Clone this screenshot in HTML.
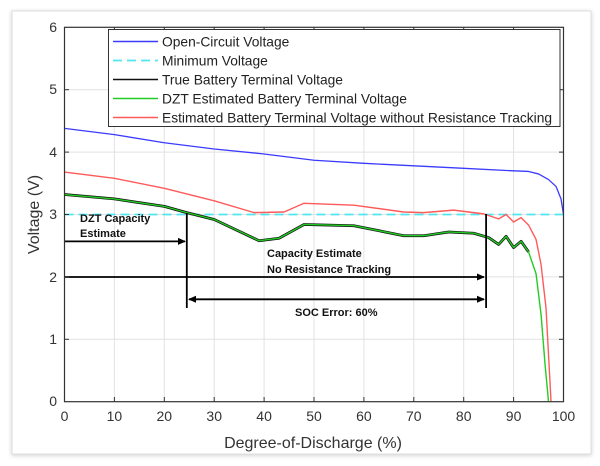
<!DOCTYPE html>
<html><head><meta charset="utf-8"><style>
html,body{margin:0;padding:0;background:#fff;}
svg{display:block;font-family:"Liberation Sans",Arial,sans-serif;}
</style></head><body>
<svg width="600" height="466" viewBox="0 0 600 466" xmlns="http://www.w3.org/2000/svg">
<defs>
<filter id="sh" x="-5%" y="-5%" width="110%" height="110%"><feDropShadow dx="0" dy="1" stdDeviation="2" flood-color="#000" flood-opacity="0.18"/></filter>
<marker id="ar" markerWidth="8" markerHeight="8" refX="7" refY="4" orient="auto" markerUnits="userSpaceOnUse"><path d="M0,0.5 L8,4 L0,7.5 z" fill="#000"/></marker>
<marker id="al" markerWidth="8" markerHeight="8" refX="1" refY="4" orient="auto" markerUnits="userSpaceOnUse"><path d="M8,0.5 L0,4 L8,7.5 z" fill="#000"/></marker>
</defs>
<rect x="12" y="11" width="579" height="443" fill="#fff" stroke="#ddd" stroke-width="1" filter="url(#sh)"/>
<rect x="64.5" y="27.3" width="499" height="374.4" fill="#fff"/>
<g stroke="#e2e2e2" stroke-width="1">
<line x1="114.4" y1="27.3" x2="114.4" y2="401.7"/><line x1="164.3" y1="27.3" x2="164.3" y2="401.7"/><line x1="214.2" y1="27.3" x2="214.2" y2="401.7"/><line x1="264.1" y1="27.3" x2="264.1" y2="401.7"/><line x1="314" y1="27.3" x2="314" y2="401.7"/><line x1="363.9" y1="27.3" x2="363.9" y2="401.7"/><line x1="413.8" y1="27.3" x2="413.8" y2="401.7"/><line x1="463.7" y1="27.3" x2="463.7" y2="401.7"/><line x1="513.6" y1="27.3" x2="513.6" y2="401.7"/>
<line x1="64.5" y1="339.3" x2="563.5" y2="339.3"/><line x1="64.5" y1="276.9" x2="563.5" y2="276.9"/><line x1="64.5" y1="214.5" x2="563.5" y2="214.5"/><line x1="64.5" y1="152.1" x2="563.5" y2="152.1"/><line x1="64.5" y1="89.7" x2="563.5" y2="89.7"/>
</g>
<g transform="translate(64.5,401.7) scale(4.99,-62.4)" fill="none" stroke-linejoin="round">
<polyline vector-effect="non-scaling-stroke" stroke="#3b3bff" stroke-width="1.3" points="0,4.38 10,4.28 20,4.15 30,4.05 40,3.97 50,3.87 60,3.82 70,3.78 80,3.74 90,3.70 93,3.69 95,3.65 97,3.56 98.5,3.45 99.5,3.25 100,3.0"/>
<line vector-effect="non-scaling-stroke" x1="0" y1="3" x2="100" y2="3" stroke="#4fe6ef" stroke-width="1.8" stroke-dasharray="9,5"/>
<polyline vector-effect="non-scaling-stroke" stroke="#ff5a5a" stroke-width="1.4" points="0,3.68 10,3.58 20,3.42 30,3.22 38,3.03 44,3.04 48,3.18 58,3.15 68,3.04 72,3.03 78,3.07 84,3.01 87,2.93 88.5,3.0 90,2.88 91.5,2.95 93,2.83 94.5,2.6 95.5,2.2 96.5,1.5 97.5,0"/>
<polyline vector-effect="non-scaling-stroke" stroke="#111" stroke-width="2.8" points="0,3.32 10,3.25 20,3.13 24.5,3.03 30,2.92 39,2.58 43,2.62 48,2.84 58,2.82 68,2.66 72,2.66 77,2.72 82,2.70 85,2.63 87,2.52 88.5,2.65 90,2.47 91.5,2.57 93,2.4"/>
<polyline vector-effect="non-scaling-stroke" stroke="#22cc22" stroke-width="1.4" points="0,3.32 10,3.25 20,3.13 24.5,3.03 30,2.92 39,2.58 43,2.62 48,2.84 58,2.82 68,2.66 72,2.66 77,2.72 82,2.70 85,2.63 87,2.52 88.5,2.65 90,2.47 91.5,2.57 93,2.4 94.5,2.05 95.5,1.4 96.3,0.6 97,0"/>
</g>
<g stroke="#000" stroke-width="1.8">
<line x1="186.8" y1="213" x2="186.8" y2="308"/>
<line x1="486.1" y1="214" x2="486.1" y2="308"/>
<line x1="64.5" y1="241.4" x2="185" y2="241.4" marker-end="url(#ar)"/>
<line x1="64.5" y1="277" x2="484" y2="277" marker-end="url(#ar)"/>
<line x1="189" y1="299.3" x2="484" y2="299.3" marker-start="url(#al)" marker-end="url(#ar)"/>
</g>
<g font-size="11" font-weight="bold" fill="#111">
<text x="80" y="222">DZT Capacity</text><text x="80" y="237">Estimate</text>
<text x="267" y="257">Capacity Estimate</text><text x="267" y="273">No Resistance Tracking</text>
<text x="295" y="316">SOC Error: 60%</text>
</g>
<rect x="64.5" y="27.3" width="499" height="374.4" fill="none" stroke="#333" stroke-width="1.2"/>
<g stroke="#333" stroke-width="1">
<line x1="114.4" y1="401.7" x2="114.4" y2="397"/><line x1="164.3" y1="401.7" x2="164.3" y2="397"/><line x1="214.2" y1="401.7" x2="214.2" y2="397"/><line x1="264.1" y1="401.7" x2="264.1" y2="397"/><line x1="314" y1="401.7" x2="314" y2="397"/><line x1="363.9" y1="401.7" x2="363.9" y2="397"/><line x1="413.8" y1="401.7" x2="413.8" y2="397"/><line x1="463.7" y1="401.7" x2="463.7" y2="397"/><line x1="513.6" y1="401.7" x2="513.6" y2="397"/>
<line x1="114.4" y1="27.3" x2="114.4" y2="32"/><line x1="164.3" y1="27.3" x2="164.3" y2="32"/><line x1="214.2" y1="27.3" x2="214.2" y2="32"/><line x1="264.1" y1="27.3" x2="264.1" y2="32"/><line x1="314" y1="27.3" x2="314" y2="32"/><line x1="363.9" y1="27.3" x2="363.9" y2="32"/><line x1="413.8" y1="27.3" x2="413.8" y2="32"/><line x1="463.7" y1="27.3" x2="463.7" y2="32"/><line x1="513.6" y1="27.3" x2="513.6" y2="32"/>
<line x1="64.5" y1="339.3" x2="69" y2="339.3"/><line x1="64.5" y1="276.9" x2="69" y2="276.9"/><line x1="64.5" y1="214.5" x2="69" y2="214.5"/><line x1="64.5" y1="152.1" x2="69" y2="152.1"/><line x1="64.5" y1="89.7" x2="69" y2="89.7"/>
<line x1="563.5" y1="339.3" x2="559" y2="339.3"/><line x1="563.5" y1="276.9" x2="559" y2="276.9"/><line x1="563.5" y1="152.1" x2="559" y2="152.1"/><line x1="563.5" y1="89.7" x2="559" y2="89.7"/>
</g>
<g font-size="14" fill="#333" text-anchor="middle">
<text x="64.5" y="421">0</text><text x="114.4" y="421">10</text><text x="164.3" y="421">20</text><text x="214.2" y="421">30</text><text x="264.1" y="421">40</text><text x="314" y="421">50</text><text x="363.9" y="421">60</text><text x="413.8" y="421">70</text><text x="463.7" y="421">80</text><text x="513.6" y="421">90</text><text x="563.5" y="421">100</text>
</g>
<g font-size="14" fill="#333" text-anchor="end">
<text x="57" y="406">0</text><text x="57" y="344">1</text><text x="57" y="282">2</text><text x="57" y="219">3</text><text x="57" y="157">4</text><text x="57" y="94">5</text><text x="57" y="32">6</text>
</g>
<text x="313" y="448" font-size="16" fill="#333" text-anchor="middle">Degree-of-Discharge (%)</text>
<text transform="translate(39,214.5) rotate(-90)" font-size="16" fill="#333" text-anchor="middle">Voltage (V)</text>
<rect x="108.5" y="29.5" width="451.5" height="97" fill="#fff" stroke="#333" stroke-width="1"/>
<g stroke-width="1.4">
<line x1="113" y1="41.5" x2="158" y2="41.5" stroke="#3b3bff"/>
<line x1="113" y1="60.5" x2="158" y2="60.5" stroke="#4fe6ef" stroke-width="1.8" stroke-dasharray="9,5"/>
<line x1="113" y1="79.5" x2="158" y2="79.5" stroke="#111"/>
<line x1="113" y1="98.5" x2="158" y2="98.5" stroke="#22cc22"/>
<line x1="113" y1="117.5" x2="158" y2="117.5" stroke="#ff5a5a"/>
</g>
<g font-size="13.8" fill="#222">
<text x="162" y="46.5">Open-Circuit Voltage</text>
<text x="162" y="65.5">Minimum Voltage</text>
<text x="162" y="84.5">True Battery Terminal Voltage</text>
<text x="162" y="103.5">DZT Estimated Battery Terminal Voltage</text>
<text x="162" y="122.5">Estimated Battery Terminal Voltage without Resistance Tracking</text>
</g>
</svg>
</body></html>
